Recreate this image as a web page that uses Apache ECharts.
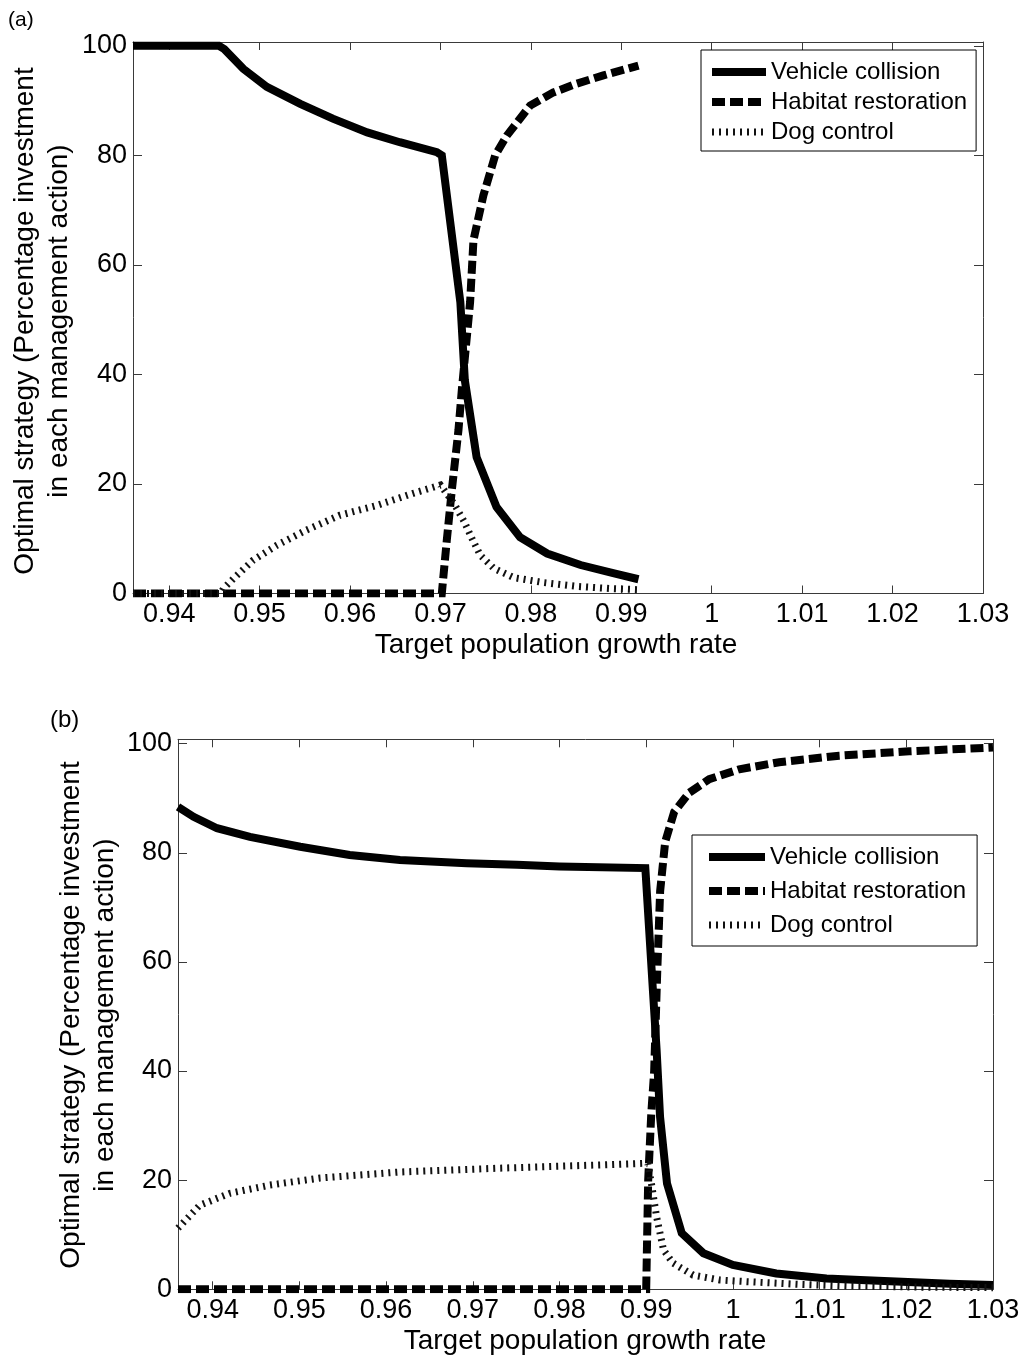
<!DOCTYPE html>
<html>
<head>
<meta charset="utf-8">
<script src="https://cdn.jsdelivr.net/npm/echarts@6/dist/echarts.min.js"></script>
<style>
  html, body { margin: 0; padding: 0; background: #fff; }
  #chart { width: 1025px; height: 1358px; }
</style>
</head>
<body>
<div id="chart"></div>
<script>
// Tick positions and printed labels shared by both panels
const xTicks = [0.94, 0.95, 0.96, 0.97, 0.98, 0.99, 1.00, 1.01, 1.02, 1.03];
const xTickLabels = ['0.94', '0.95', '0.96', '0.97', '0.98', '0.99', '1', '1.01', '1.02', '1.03'];
const yTicks = [0, 20, 40, 60, 80, 100];
const seriesNames = ['Vehicle collision', 'Habitat restoration', 'Dog control'];
const xTitle = 'Target population growth rate';
const yTitle = 'Optimal strategy (Percentage investment\nin each management action)';

// Panel (a): [growth rate, % investment]
const aVehicle = [
  [0.936, 100], [0.9455, 100], [0.9461, 99.4], [0.9482, 95.8], [0.9508, 92.5],
  [0.9545, 89.4], [0.9581, 86.7], [0.9619, 84.2], [0.9655, 82.4], [0.9696, 80.6],
  [0.97015, 80.0], [0.9722, 53.2], [0.9727, 38.9], [0.9740, 24.9], [0.9762, 15.8],
  [0.9788, 10.3], [0.9818, 7.3], [0.9855, 5.2], [0.9891, 3.7], [0.9919, 2.6]
];
const aHabitat = [
  [0.936, 0], [0.97015, 0], [0.9707, 9.7], [0.97126, 18.9], [0.97199, 29.8],
  [0.97236, 37.1], [0.97328, 53.2], [0.97365, 64.5], [0.97475, 72.7], [0.97605, 80.0],
  [0.97734, 83.6], [0.97992, 89.1], [0.98249, 91.5], [0.98508, 93.1], [0.98802, 94.6],
  [0.9919, 96.4]
];
const aDog = [
  [0.936, 0], [0.9457, 0], [0.9460, 0.9], [0.9471, 2.7], [0.9493, 6.1],
  [0.9519, 8.8], [0.9552, 11.6], [0.9589, 14.3], [0.9630, 16.1], [0.9670, 18.3],
  [0.9700, 19.8], [0.97015, 20.0], [0.9715, 16.4], [0.9726, 13.2], [0.9735, 10.0],
  [0.9744, 7.0], [0.9759, 4.6], [0.9781, 2.9], [0.9814, 2.0], [0.9851, 1.3],
  [0.9888, 0.9], [0.9918, 0.7]
];

// Panel (b)
const bVehicle = [
  [0.936, 88.4], [0.9378, 86.6], [0.9405, 84.5], [0.9443, 82.9], [0.9501, 81.1],
  [0.9558, 79.6], [0.9616, 78.7], [0.9693, 78.1], [0.9751, 77.8], [0.9800, 77.5],
  [0.9899, 77.2], [0.9912, 43.9], [0.9916, 31.6], [0.9924, 19.4], [0.9941, 10.3],
  [0.9966, 6.6], [1.0000, 4.45], [1.0050, 2.9], [1.0108, 2.0], [1.0147, 1.7],
  [1.0250, 1.0], [1.0300, 0.8]
];
const bHabitat = [
  [0.936, 0], [0.9900, 0], [0.99023, 20], [0.99058, 32], [0.99092, 40],
  [0.99127, 58], [0.99161, 73], [0.99219, 82], [0.99323, 87.5], [0.99496, 91],
  [0.99727, 93.5], [1.00073, 95.3], [1.00534, 96.6], [1.01226, 97.8], [1.02033, 98.6],
  [1.0300, 99.3]
];
const bDog = [
  [0.936, 11.2], [0.9385, 15.4], [0.9420, 17.6], [0.9466, 19.1], [0.9524, 20.4],
  [0.9616, 21.5], [0.9731, 22.2], [0.9847, 22.8], [0.9899, 23.1], [0.9902, 23.0],
  [0.9906, 19.4], [0.9912, 13.3], [0.9920, 7.2], [0.9931, 4.8], [0.9954, 2.6],
  [0.9985, 1.7], [1.0016, 1.4], [1.0077, 0.9], [1.0135, 0.6], [1.0216, 0.4],
  [1.0300, 0.3]
];

const FONT = '"Liberation Sans", Arial, Helvetica, sans-serif';
const AXIS_COLOR = '#3a3a3a';

function xLabel(v) {
  const i = xTicks.findIndex(t => Math.abs(t - v) < 1e-6);
  return i >= 0 ? xTickLabels[i] : '';
}

function xAxisDef(gridIndex, position) {
  const bottom = position === 'bottom';
  return {
    type: 'value', gridIndex, position, min: 0.936, max: 1.03,
    axisLine: { show: true, onZero: false, lineStyle: { color: AXIS_COLOR, width: 1 } },
    axisTick: { show: true, inside: true, length: 8, customValues: xTicks,
                lineStyle: { color: AXIS_COLOR, width: 1 } },
    axisLabel: { show: bottom, customValues: xTicks, formatter: xLabel, margin: 8,
                 fontSize: 27, fontFamily: FONT, color: '#000' },
    splitLine: { show: false }
  };
}

function yAxisDef(gridIndex, position, max) {
  const left = position === 'left';
  return {
    type: 'value', gridIndex, position, min: 0, max,
    axisLine: { show: true, onZero: false, lineStyle: { color: AXIS_COLOR, width: 1 } },
    axisTick: { show: true, inside: true, length: 9, customValues: yTicks,
                lineStyle: { color: AXIS_COLOR, width: 1 } },
    axisLabel: { show: left, customValues: yTicks, margin: 6,
                 fontSize: 27, fontFamily: FONT, color: '#000' },
    splitLine: { show: false }
  };
}

function lines(data, kind, xi, yi) {
  const styles = {
    vehicle: { width: 8, color: '#000', type: 'solid' },
    habitat: { width: 8, color: '#000', type: [13, 5] },
    dog: { width: 7, color: '#111', type: [2, 5] }
  };
  const names = { vehicle: seriesNames[0], habitat: seriesNames[1], dog: seriesNames[2] };
  return {
    type: 'line', name: names[kind], data, xAxisIndex: xi, yAxisIndex: yi,
    symbol: 'none', showSymbol: false, smooth: false, clip: true,
    lineStyle: Object.assign({ cap: 'butt', join: 'miter' }, styles[kind]),
    itemStyle: { color: '#000' },
    emphasis: { disabled: true }, silent: true
  };
}

function legendDef(left, top, padding, itemWidth, itemGap) {
  return {
    data: seriesNames, orient: 'vertical', left, top, padding, itemWidth,
    itemHeight: 14, itemGap, selectedMode: false,
    borderColor: '#000', borderWidth: 1, borderRadius: 0, backgroundColor: '#fff',
    textStyle: { fontSize: 24, fontFamily: FONT, color: '#000', lineHeight: 24 },
    lineStyle: { width: 'inherit' },
    itemStyle: { opacity: 0 }
  };
}

const chart = echarts.init(document.getElementById('chart'), null, { renderer: 'canvas' });

chart.setOption({
  animation: false,
  backgroundColor: '#fff',
  grid: [
    { left: 133, top: 42, width: 850, height: 551.5 },
    { left: 178, top: 739.3, width: 815, height: 550 }
  ],
  xAxis: [xAxisDef(0, 'bottom'), xAxisDef(0, 'top'), xAxisDef(1, 'bottom'), xAxisDef(1, 'top')],
  yAxis: [yAxisDef(0, 'left', 100.7), yAxisDef(0, 'right', 100.7),
          yAxisDef(1, 'left', 100.8), yAxisDef(1, 'right', 100.8)],
  legend: [
    legendDef(701, 50, [10, 9, 7, 7], 54, 6),
    legendDef(692, 835, [10, 11, 9, 13], 56, 10)
  ],
  series: [
    lines(aVehicle, 'vehicle', 0, 0),
    lines(aHabitat, 'habitat', 0, 0),
    lines(aDog, 'dog', 0, 0),
    lines(bVehicle, 'vehicle', 2, 2),
    lines(bHabitat, 'habitat', 2, 2),
    lines(bDog, 'dog', 2, 2)
  ],
  graphic: [
    { type: 'text', x: 8, y: 10, style: { text: '(a)', font: '21px ' + FONT, fill: '#000' } },
    { type: 'text', x: 50, y: 708, style: { text: '(b)', font: '24px ' + FONT, fill: '#000' } },
    { type: 'text', x: 556, y: 645,
      style: { text: xTitle, font: '28px ' + FONT, fill: '#000', align: 'center', verticalAlign: 'middle' } },
    { type: 'text', x: 585, y: 1341,
      style: { text: xTitle, font: '28px ' + FONT, fill: '#000', align: 'center', verticalAlign: 'middle' } },
    { type: 'text', x: 42, y: 321, rotation: Math.PI / 2,
      style: { text: yTitle, font: '28px ' + FONT, fill: '#000', lineHeight: 34,
               align: 'center', verticalAlign: 'middle' } },
    { type: 'text', x: 88.5, y: 1015, rotation: Math.PI / 2,
      style: { text: yTitle, font: '28px ' + FONT, fill: '#000', lineHeight: 34,
               align: 'center', verticalAlign: 'middle' } }
  ]
});
</script>
</body>
</html>
